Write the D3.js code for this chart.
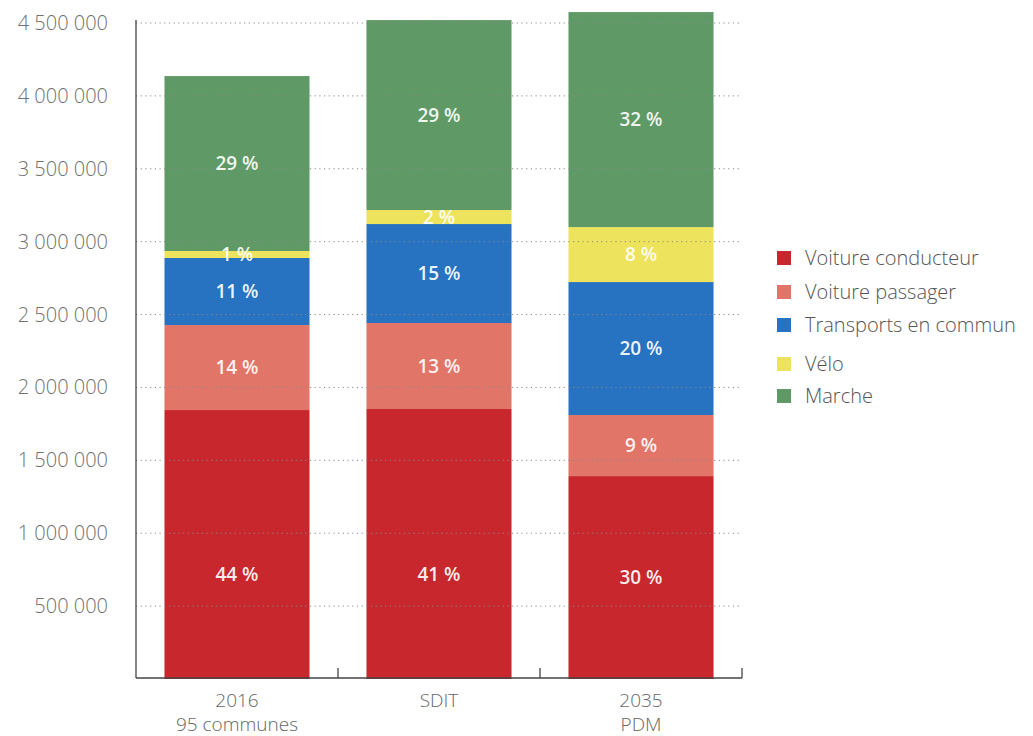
<!DOCTYPE html>
<html>
<head>
<meta charset="utf-8">
<script src="https://cdn.jsdelivr.net/npm/d3@7"></script>
<style>
  body { margin: 0; background: #fff; }
  svg { font-family: "Open Sans", "Noto Sans", sans-serif; }
</style>
</head>
<body>
<svg id="chart" width="1033" height="736"></svg>
<script>
// Data
const scenarios = ["2016|95 communes", "SDIT", "2035|PDM"];
const modes = ["Voiture conducteur", "Voiture passager", "Transports en commun", "Vélo", "Marche"];
const modeColors = ["#c7272d", "#e17568", "#2873c1", "#ede35c", "#5f9a66"];
// trips per mode, one array per scenario (same order as modes)
const trips2016 = [1845000, 583000, 460000, 48000, 1200000];
const tripsSDIT = [1852000, 590000, 679000, 96000, 1303000];
const trips2035 = [1392000, 419000, 912000, 377000, 1475000];
const shareLabels = [
  ["44 %", "14 %", "11 %", "1 %", "29 %"],
  ["41 %", "13 %", "15 %", "2 %", "29 %"],
  ["30 %", "9 %", "20 %", "8 %", "32 %"]
];
const yTicks = [500000, 1000000, 1500000, 2000000, 2500000, 3000000, 3500000, 4000000, 4500000];

const svg = d3.select("#chart");
const plotLeft = 136, plotRight = 742, plotBottom = 679, plotTop = 23;

const rows = [trips2016, tripsSDIT, trips2035].map((vals, i) => {
  const row = { scenario: scenarios[i] };
  modes.forEach((m, j) => (row[m] = vals[j]));
  return row;
});
const series = d3.stack().keys(modes)(rows);

const x = d3.scaleBand().domain(scenarios).range([plotLeft, plotRight])
  .paddingInner(0.282).paddingOuter(0.141);
const y = d3.scaleLinear().domain([0, 4500000]).range([plotBottom, plotTop]);

// bars
series.forEach((s, j) => {
  svg.append("g").selectAll("rect")
    .data(s)
    .enter()
    .append("rect")
    .attr("x", (d) => x(d.data.scenario))
    .attr("width", x.bandwidth())
    .attr("y", (d) => y(d[1]))
    .attr("height", (d) => y(d[0]) - y(d[1]))
    .attr("fill", modeColors[j]);
});

// dotted gridlines over the bars
svg.append("g").selectAll("line")
  .data(yTicks)
  .enter()
  .append("line")
  .attr("x1", plotLeft)
  .attr("x2", plotRight)
  .attr("y1", (d) => y(d))
  .attr("y2", (d) => y(d))
  .attr("stroke", "#8a8a8a")
  .attr("stroke-width", 1)
  .attr("stroke-dasharray", "1.2,3.5");

// y tick labels
const fmt = (v) => d3.format(",")(v).replace(/,/g, " ");
svg.append("g").selectAll("text")
  .data(yTicks)
  .enter()
  .append("text")
  .attr("x", 108)
  .attr("y", (d) => y(d))
  .attr("dy", "0.35em")
  .attr("text-anchor", "end")
  .attr("font-size", "20px")
  .attr("font-weight", 300)
  .attr("fill", "#707070")
  .text(fmt);

// axes lines
const axisY0 = y(0) - 1;
svg.append("line")
  .attr("x1", plotLeft).attr("x2", plotLeft)
  .attr("y1", 20).attr("y2", axisY0)
  .attr("stroke", "#444").attr("stroke-width", 1.3);
svg.append("line")
  .attr("x1", plotLeft).attr("x2", plotRight)
  .attr("y1", axisY0).attr("y2", axisY0)
  .attr("stroke", "#444").attr("stroke-width", 1.3);
// separator ticks between categories
svg.append("g").selectAll("line")
  .data(scenarios)
  .enter()
  .append("line")
  .attr("x1", (d) => x(d) + x.bandwidth() + x.step() * x.paddingInner() / 2)
  .attr("x2", (d) => x(d) + x.bandwidth() + x.step() * x.paddingInner() / 2)
  .attr("y1", axisY0 - 10)
  .attr("y2", axisY0)
  .attr("stroke", "#444").attr("stroke-width", 1.3);

// x labels
svg.append("g").selectAll("text")
  .data(scenarios)
  .enter()
  .append("text")
  .attr("x", (d) => x(d) + x.bandwidth() / 2)
  .attr("y", 707)
  .attr("text-anchor", "middle")
  .attr("font-size", "19px")
  .attr("font-weight", 300)
  .attr("fill", "#666")
  .each(function (d) {
    const parts = d.split("|");
    parts.forEach((p, i) => {
      d3.select(this).append("tspan")
        .attr("x", x(d) + x.bandwidth() / 2)
        .attr("dy", i === 0 ? 0 : 24)
        .text(p);
    });
  });

// share labels inside segments
series.forEach((s, j) => {
  svg.append("g").selectAll("text")
    .data(s)
    .enter()
    .append("text")
    .attr("x", (d) => x(d.data.scenario) + x.bandwidth() / 2)
    .attr("y", (d) => {
      let mid = (d[0] + d[1]) / 2;
      if (j === 0) mid = Math.min(mid, 715000);
      return y(mid);
    })
    .attr("dy", "0.35em")
    .attr("text-anchor", "middle")
    .attr("font-size", "19px")
    .attr("font-weight", 600)
    .attr("fill", "#fff")
    .attr("fill-opacity", 0.93)
    .text((d, i) => shareLabels[i][j]);
});

// legend
const legend = svg.append("g").attr("transform", "translate(777, 258)");
const legendY = [0, 34, 67, 106, 138];
modes.forEach((m, i) => {
  legend.append("rect")
    .attr("x", 0).attr("y", legendY[i] - 7)
    .attr("width", 14).attr("height", 14)
    .attr("fill", modeColors[i]);
  legend.append("text")
    .attr("x", 28).attr("y", legendY[i])
    .attr("dy", "0.35em")
    .attr("font-size", "20px")
    .attr("font-weight", 300)
    .attr("fill", "#555")
    .text(m);
});
</script>
</body>
</html>
